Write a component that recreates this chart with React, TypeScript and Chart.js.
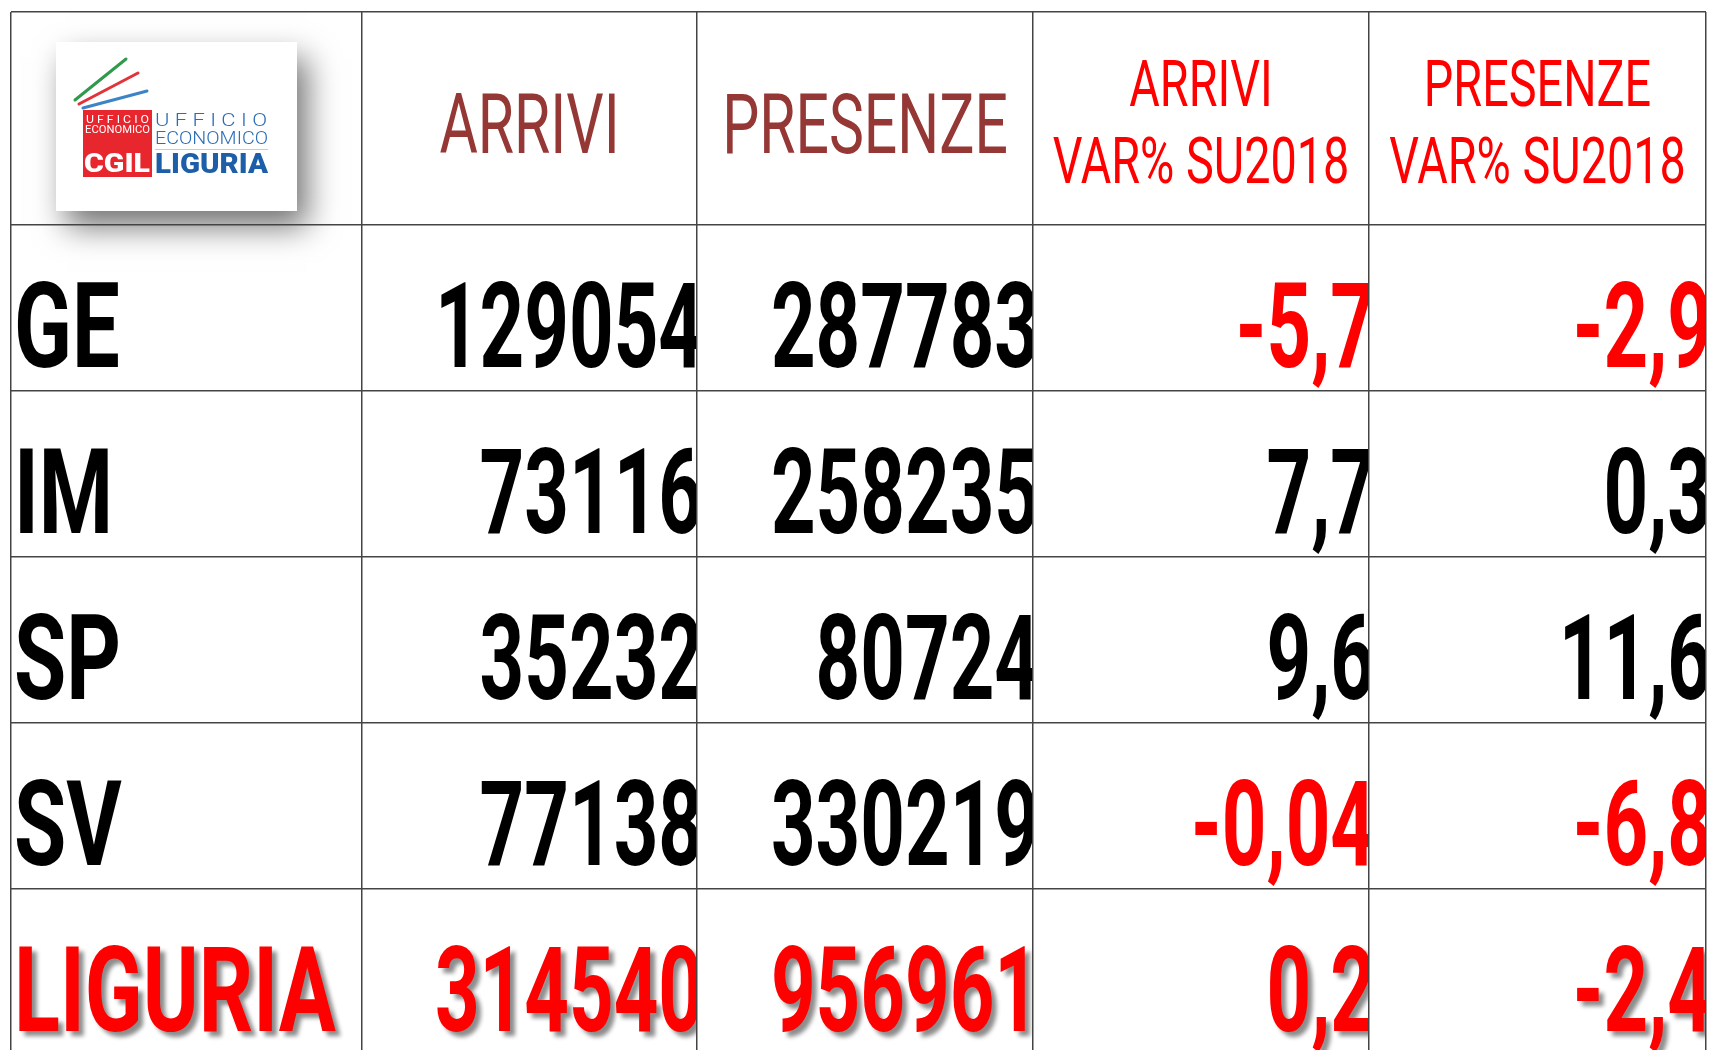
import { useEffect, useRef } from 'react';
import { Chart, registerables } from 'chart.js';

Chart.register(...registerables);

// ---- data ----
const rowLabels = ['GE', 'IM', 'SP', 'SV', 'LIGURIA'];
const arrivi = [129054, 73116, 35232, 77138, 314540];
const presenze = [287783, 258235, 80724, 330219, 956961];
const arriviVar = [-5.7, 7.7, 9.6, -0.04, 0.2];
const presenzeVar = [-2.9, 0.3, 11.6, -6.8, -2.4];
const headerLines = [[], ['ARRIVI'], ['PRESENZE'], ['ARRIVI', 'VAR% SU2018'], ['PRESENZE', 'VAR% SU2018']];

// ---- layout (table geometry in table units) ----
const COL_W = [351, 335, 336, 336, 337];
const ROW_H = [213, 166, 166, 166, 166, 166];
const VISIBLE_H = 1038;

const colEdges = COL_W.reduce((a, w) => { a.push(a[a.length - 1] + w); return a; }, [0] as number[]);
const rowEdges = ROW_H.reduce((a, h) => { a.push(a[a.length - 1] + h); return a; }, [0] as number[]);
const TOTAL_W = colEdges[colEdges.length - 1];

const FONT = 'Roboto, "DejaVu Sans", sans-serif';
const RED = '#ff0000';
const DARK_RED = '#953735';

const fmtNum = (v: number) => String(v);
const fmtVar = (v: number) => String(v).replace('.', ',');

function cell(chart: any, c: number, r: number) {
  const x = chart.scales.x;
  const y = chart.scales.y;
  return {
    left: x.getPixelForValue(colEdges[c]),
    right: x.getPixelForValue(colEdges[c + 1]),
    top: y.getPixelForValue(rowEdges[r]),
    bottom: y.getPixelForValue(rowEdges[r + 1]),
  };
}

function drawScaled(ctx: CanvasRenderingContext2D, text: string, x: number, y: number, sx: number, align: CanvasTextAlign) {
  ctx.save();
  ctx.translate(x, y);
  ctx.scale(sx, 1);
  ctx.textAlign = align;
  ctx.textBaseline = 'alphabetic';
  ctx.fillText(text, 0, 0);
  ctx.restore();
}

function fitText(ctx: CanvasRenderingContext2D, text: string, x: number, y: number, w: number) {
  const m = ctx.measureText(text).width;
  drawScaled(ctx, text, x, y, w / m, 'left');
}

const logoPlugin = {
  id: 'logo',
  beforeDraw(chart: any) {
    const ctx: CanvasRenderingContext2D = chart.ctx;
    const c = cell(chart, 0, 0);
    const ox = c.left + 45;
    const oy = c.top + 30;
    ctx.save();
    ctx.shadowColor = 'rgba(0,0,0,0.55)';
    ctx.shadowBlur = 30;
    ctx.shadowOffsetX = 10;
    ctx.shadowOffsetY = 16;
    ctx.fillStyle = '#ffffff';
    ctx.fillRect(ox, oy, 241, 169);
    ctx.restore();

    ctx.save();
    ctx.lineCap = 'round';
    ctx.lineWidth = 3;
    const lines: [string, number, number, number, number][] = [
      ['#2f9a4c', 19, 58, 70, 17],
      ['#e2323a', 23, 62, 82, 31],
      ['#3d84c6', 27, 66, 91, 49],
    ];
    for (const [col, x1, y1, x2, y2] of lines) {
      ctx.strokeStyle = col;
      ctx.beginPath();
      ctx.moveTo(ox + x1, oy + y1);
      ctx.lineTo(ox + x2, oy + y2);
      ctx.stroke();
    }
    ctx.fillStyle = '#e8262e';
    ctx.fillRect(ox + 27, oy + 68, 69, 67);
    ctx.fillStyle = '#ffffff';
    ctx.font = `400 11px ${FONT}`;
    fitText(ctx, 'U F F I C I O', ox + 30, oy + 81, 63);
    ctx.font = `400 10px ${FONT}`;
    fitText(ctx, 'ECONOMICO', ox + 29, oy + 91, 65);
    ctx.font = `900 25px ${FONT}`;
    fitText(ctx, 'CGIL', ox + 28, oy + 130, 66);

    ctx.fillStyle = '#2a6db5';
    ctx.font = `300 19px ${FONT}`;
    fitText(ctx, 'U F F I C I O', ox + 99, oy + 84, 112);
    ctx.font = `300 19px ${FONT}`;
    fitText(ctx, 'ECONOMICO', ox + 99, oy + 102, 113);
    ctx.fillStyle = '#c9c9c9';
    ctx.fillRect(ox + 99, oy + 107, 113, 1);
    ctx.fillStyle = '#1c5fa8';
    ctx.font = `900 27px ${FONT}`;
    fitText(ctx, 'LIGURIA', ox + 99, oy + 131, 113);
    ctx.restore();
  },
};

const tablePlugin = {
  id: 'tableText',
  afterDraw(chart: any) {
    const ctx: CanvasRenderingContext2D = chart.ctx;

    // headers
    for (let c = 1; c < headerLines.length; c++) {
      const r = cell(chart, c, 0);
      const cx = (r.left + r.right) / 2;
      ctx.save();
      if (headerLines[c].length === 1) {
        ctx.fillStyle = DARK_RED;
        ctx.font = `400 84px ${FONT}`;
        drawScaled(ctx, headerLines[c][0], cx, r.top + 141, 0.7, 'center');
      } else {
        ctx.fillStyle = RED;
        ctx.font = `400 65px ${FONT}`;
        drawScaled(ctx, headerLines[c][0], cx, r.top + 94, 0.72, 'center');
        drawScaled(ctx, headerLines[c][1], cx, r.top + 171, 0.72, 'center');
      }
      ctx.restore();
    }

    // body
    for (let i = 0; i < rowLabels.length; i++) {
      const rowIdx = i + 1;
      const total = i === rowLabels.length - 1;
      const values = [fmtNum(arrivi[i]), fmtNum(presenze[i]), fmtVar(arriviVar[i]), fmtVar(presenzeVar[i])];
      const raw = [arrivi[i], presenze[i], arriviVar[i], presenzeVar[i]];
      for (let c = 0; c < 5; c++) {
        const r = cell(chart, c, rowIdx);
        ctx.save();
        ctx.beginPath();
        ctx.rect(r.left + 1, r.top + 1, r.right - r.left - 2, r.bottom - r.top - 1);
        ctx.clip();
        if (total) {
          ctx.shadowColor = 'rgba(0,0,0,0.45)';
          ctx.shadowOffsetX = 5;
          ctx.shadowOffsetY = 5;
          ctx.shadowBlur = 4;
        }
        ctx.font = `700 118px ${FONT}`;
        const base = r.top + 142;
        if (c === 0) {
          ctx.fillStyle = total ? RED : '#000000';
          drawScaled(ctx, rowLabels[i], r.left + 3, base, 0.72, 'left');
        } else {
          const v = raw[c - 1];
          ctx.fillStyle = total || v < 0 ? RED : '#000000';
          drawScaled(ctx, values[c - 1], r.right + 6, base, 0.66, 'right');
        }
        ctx.restore();
      }
    }
  },
};

export default function App() {
  const ref = useRef<HTMLCanvasElement>(null);
  useEffect(() => {
    if (!ref.current) return;
    const gridStyle = { color: '#444444', lineWidth: 1.5, drawTicks: false };
    const chart = new Chart(ref.current, {
      type: 'scatter',
      data: { datasets: [] },
      options: {
        animation: false,
        responsive: false,
        devicePixelRatio: 1,
        layout: { padding: { left: 11, top: 12, right: 4, bottom: 0 } },
        plugins: { legend: { display: false }, tooltip: { enabled: false } },
        scales: {
          x: {
            type: 'linear',
            position: 'top',
            min: 0,
            max: TOTAL_W,
            afterBuildTicks: (axis: any) => { axis.ticks = colEdges.map((v) => ({ value: v })); },
            ticks: { display: false },
            grid: gridStyle,
            border: { display: false },
          },
          y: {
            type: 'linear',
            reverse: true,
            min: 0,
            max: VISIBLE_H,
            afterBuildTicks: (axis: any) => { axis.ticks = rowEdges.filter((v) => v <= VISIBLE_H).map((v) => ({ value: v })); },
            ticks: { display: false },
            grid: gridStyle,
            border: { display: false },
          },
        },
      },
      plugins: [logoPlugin, tablePlugin],
    } as any);
    return () => chart.destroy();
  }, []);
  return (
    <div style={{ position: 'fixed', left: 0, top: 0, width: 1710, height: 1050, background: '#ffffff' }}>
      <canvas ref={ref} width={1710} height={1050} style={{ display: 'block', width: 1710, height: 1050 }} />
    </div>
  );
}
